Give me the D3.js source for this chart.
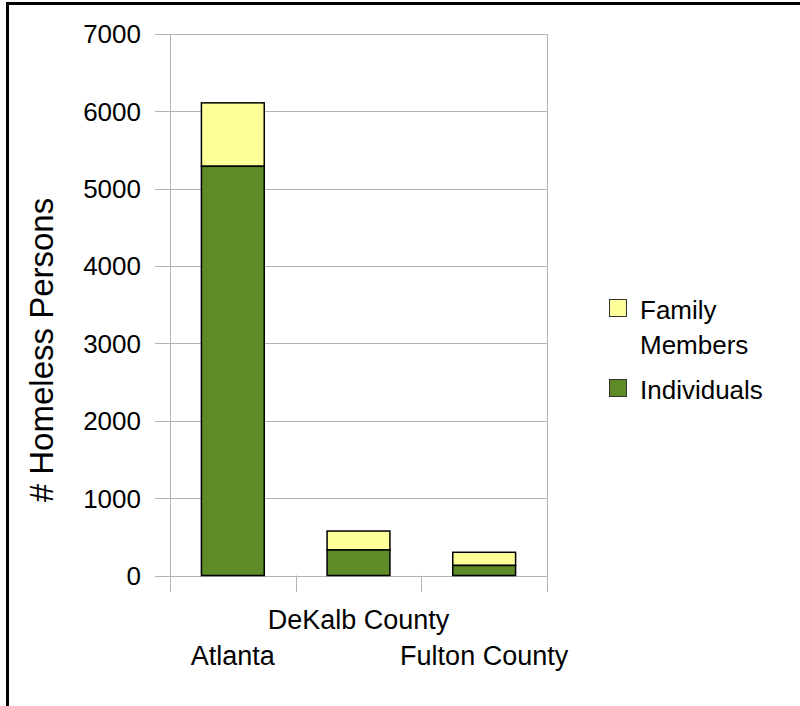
<!DOCTYPE html>
<html><head><meta charset="utf-8">
<script src="https://cdn.jsdelivr.net/npm/d3@7"></script>
<style>body{margin:0;background:#fff}svg{display:block;font-family:"Liberation Sans",Arial,sans-serif}</style>
</head><body>
<script>
const categories = ["Atlanta", "DeKalb County", "Fulton County"];
const individuals = [5290, 330, 130];
const familyMembers = [820, 245, 170];
const yTicks = [0, 1000, 2000, 3000, 4000, 5000, 6000, 7000];
const seriesNames = ["Family Members", "Individuals"];
const colors = {fam: "#ffff99", ind: "#5e8a27"};

const W = 800, H = 706;
const svg = d3.select("body").append("svg").attr("width", W).attr("height", H);

// outer frame (top and left edges visible)
svg.append("line").attr("x1", 7.5).attr("x2", 800).attr("y1", 3.5).attr("y2", 3.5).attr("stroke", "#000").attr("stroke-width", 3);
svg.append("line").attr("x1", 7.5).attr("x2", 7.5).attr("y1", 2).attr("y2", H).attr("stroke", "#000").attr("stroke-width", 3);

const x0 = 170, x1 = 547, yTop = 34, yBot = 575.5;
const y = d3.scaleLinear().domain([0, 7000]).range([yBot, yTop]);
const xBand = d3.scaleBand().domain(categories).range([x0, x1]).paddingInner(0.5).paddingOuter(0.25);
const xCat = d3.scaleBand().domain(categories).range([x0, x1]).padding(0);

const grid = "#b3b3b3";
// gridlines
svg.append("g").selectAll("line").data(yTicks).join("line")
  .attr("x1", 155).attr("x2", x1).attr("y1", d => Math.round(y(d)) + 0.5).attr("y2", d => Math.round(y(d)) + 0.5)
  .attr("stroke", grid).attr("stroke-width", 1);
// left axis line & right border
svg.append("line").attr("x1", x0 + 0.5).attr("x2", x0 + 0.5).attr("y1", yTop).attr("y2", 592).attr("stroke", grid);
svg.append("line").attr("x1", x1 + 0.5).attr("x2", x1 + 0.5).attr("y1", yTop).attr("y2", 592).attr("stroke", grid);
// x ticks at category boundaries
const bounds = categories.slice(1).map(c => xCat(c));
svg.append("g").selectAll("line").data(bounds).join("line")
  .attr("x1", d => Math.round(d) + 0.5).attr("x2", d => Math.round(d) + 0.5).attr("y1", yBot).attr("y2", 592)
  .attr("stroke", grid);

// y tick labels
svg.append("g").selectAll("text").data(yTicks).join("text")
  .attr("x", 141).attr("y", d => y(d)).attr("dy", "0.36em").attr("text-anchor", "end")
  .attr("font-size", 26).attr("fill", "#000").text(d => d);

// bars
const bars = svg.append("g");
categories.forEach((c, i) => {
  const bx = xBand(c), bw = xBand.bandwidth();
  bars.append("rect").attr("x", bx).attr("width", bw)
    .attr("y", y(individuals[i] + familyMembers[i])).attr("height", y(individuals[i]) - y(individuals[i] + familyMembers[i]))
    .attr("fill", colors.fam).attr("stroke", "#000").attr("stroke-width", 1.5);
  bars.append("rect").attr("x", bx).attr("width", bw)
    .attr("y", y(individuals[i])).attr("height", y(0) - y(individuals[i]))
    .attr("fill", colors.ind).attr("stroke", "#000").attr("stroke-width", 1.5);
});

// category labels (staggered)
svg.append("g").selectAll("text").data(categories).join("text")
  .attr("x", d => xCat(d) + xCat.bandwidth() / 2)
  .attr("y", (d, i) => i % 2 === 1 ? 629 : 665)
  .attr("text-anchor", "middle").attr("font-size", 27).attr("fill", "#000").text(d => d);

// y axis title
svg.append("text").attr("transform", "translate(53,350) rotate(-90)")
  .attr("text-anchor", "middle").attr("font-size", 33).attr("fill", "#000").text("# Homeless Persons");

// legend
const leg = svg.append("g");
leg.append("rect").attr("x", 609.5).attr("y", 299.5).attr("width", 17).attr("height", 17)
  .attr("fill", colors.fam).attr("stroke", "#333").attr("stroke-width", 1);
leg.append("rect").attr("x", 609.5).attr("y", 379.5).attr("width", 17).attr("height", 17)
  .attr("fill", colors.ind).attr("stroke", "#333").attr("stroke-width", 1);
const famWords = seriesNames[0].split(" ");
leg.append("text").attr("x", 640).attr("y", 319).attr("font-size", 26).text(famWords[0]);
leg.append("text").attr("x", 640).attr("y", 354).attr("font-size", 26).text(famWords[1]);
leg.append("text").attr("x", 640).attr("y", 399).attr("font-size", 26).text(seriesNames[1]);
</script>
</body></html>
